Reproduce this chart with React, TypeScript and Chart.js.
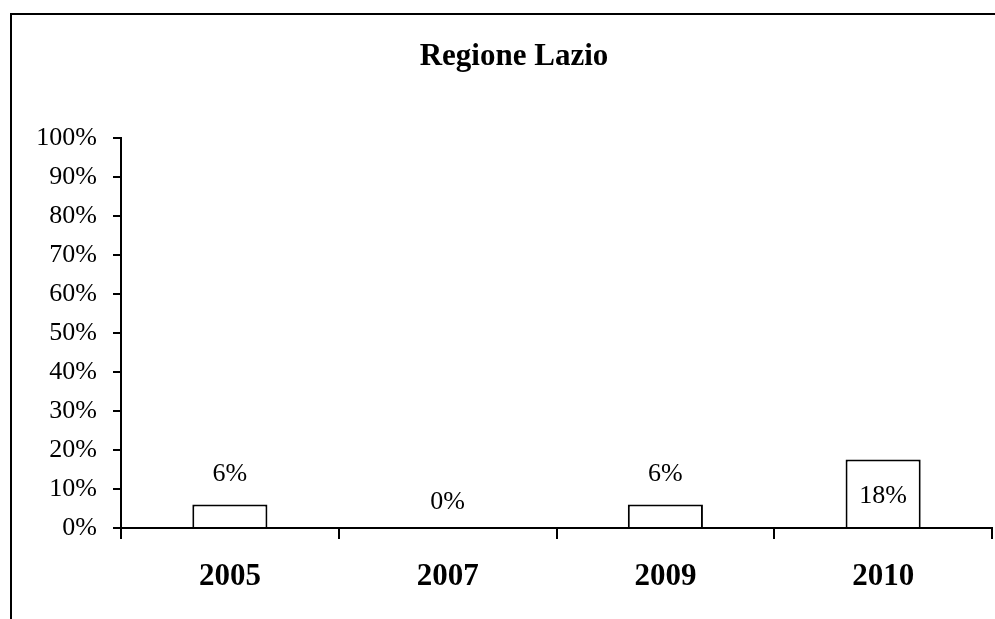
import React, { useEffect, useRef } from "react";
import { Chart, registerables } from "chart.js";

Chart.register(...registerables);

const title = "Regione Lazio";
const categories = ["2005", "2007", "2009", "2010"];
const values = [0.06, 0, 0.06, 0.176];
const labelPlacement = ["above", "above", "above", "inside"];
const yMin = 0;
const yMax = 1;
const yStep = 0.1;

const FONT = '"Liberation Serif", "Times New Roman", Times, serif';
const pct = (v: number) => Math.round(v * 100) + "%";

const valueLabels = {
  id: "valueLabels",
  afterDatasetsDraw(chart: any) {
    const ctx = chart.ctx;
    const meta = chart.getDatasetMeta(0);
    ctx.save();
    ctx.font = `26px ${FONT}`;
    ctx.fillStyle = "#000";
    ctx.textAlign = "center";
    ctx.textBaseline = "middle";
    meta.data.forEach((el: any, i: number) => {
      const { x, y } = el.getProps(["x", "y"], true);
      let ty: number;
      if (labelPlacement[i] === "inside") ty = y + 37;
      else if (values[i] === 0) ty = y - 26;
      else ty = y - 30;
      ctx.fillText(pct(values[i]), x, ty);
    });
    ctx.restore();
  },
};

export default function App() {
  const ref = useRef<HTMLCanvasElement>(null);
  useEffect(() => {
    if (!ref.current) return;
    const chart = new Chart(ref.current, {
      type: "bar",
      data: {
        labels: categories,
        datasets: [
          {
            data: values,
            backgroundColor: "#fff",
            borderColor: "#000",
            borderWidth: 2,
            categoryPercentage: 1,
            barPercentage: 0.345,
          },
        ],
      },
      options: {
        responsive: false,
        animation: false,
        layout: { padding: { left: 36, right: 38, top: 0, bottom: 24 } },
        plugins: {
          legend: { display: false },
          tooltip: { enabled: false },
          title: {
            display: true,
            text: title,
            color: "#000",
            font: { family: FONT, size: 31, weight: "bold" },
            padding: { top: 38, bottom: 63 },
          },
        },
        scales: {
          x: {
            offset: true,
            grid: {
              display: true,
              drawOnChartArea: false,
              drawTicks: true,
              tickLength: 11,
              color: "#000",
              lineWidth: 2,
              offset: true,
            },
            border: { display: true, color: "#000", width: 2 },
            ticks: {
              color: "#000",
              font: { family: FONT, size: 31, weight: "bold" },
              padding: 19,
              maxRotation: 0,
            },
            afterFit: (s: any) => {
              s.height = 67;
            },
          },
          y: {
            min: yMin,
            max: yMax,
            grid: {
              drawOnChartArea: false,
              drawTicks: true,
              tickLength: 8,
              color: "#000",
              lineWidth: 2,
            },
            border: { display: true, color: "#000", width: 2 },
            ticks: {
              stepSize: yStep,
              color: "#000",
              font: { family: FONT, size: 26 },
              padding: 16,
              callback: (v: any) => pct(Number(v)),
            },
            afterFit: (s: any) => {
              s.width = 85;
            },
          },
        },
      },
      plugins: [valueLabels],
    });
    return () => chart.destroy();
  }, []);

  return (
    <div
      style={{
        position: "absolute",
        left: 0,
        top: 0,
        width: 995,
        height: 619,
        overflow: "hidden",
        background: "#fff",
      }}
    >
      <div
        style={{
          position: "absolute",
          left: 10,
          top: 13,
          width: 1100,
          height: 700,
          borderLeft: "2px solid #000",
          borderTop: "2px solid #000",
        }}
      />
      <canvas
        ref={ref}
        width={1030}
        height={619}
        style={{ position: "absolute", left: 0, top: 0, width: 1030, height: 619 }}
      />
    </div>
  );
}
